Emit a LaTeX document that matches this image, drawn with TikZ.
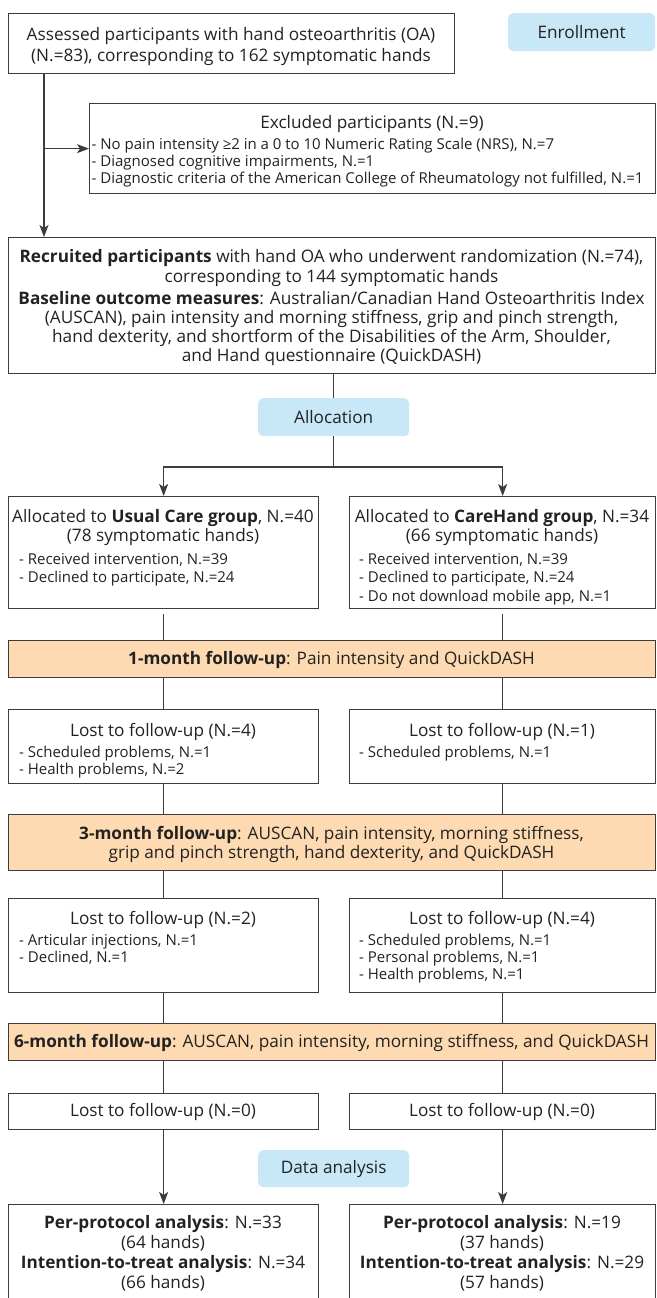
\documentclass[tikz,border=0pt]{standalone}
\usepackage{fontspec}
\setmainfont{Open Sans}
\usetikzlibrary{arrows.meta}
\definecolor{edgegray}{HTML}{3C3C3C}
\definecolor{labelblue}{HTML}{C8E8F7}
\definecolor{bandpeach}{HTML}{FDDAB2}
\definecolor{ink}{HTML}{222222}
\newcommand{\tsA}{\rule{0pt}{14pt}}
\newcommand{\tsB}{\rule{0pt}{12.5pt}}
\tikzset{
  box/.style={draw=edgegray, line width=1.3pt, fill=white, anchor=north west, inner sep=0pt},
  band/.style={box, fill=bandpeach},
  tag/.style={fill=labelblue, rounded corners=5pt, anchor=north west, inner sep=0pt, font=\fontsize{17.2}{20}\selectfont, text=ink},
  ttl/.style={anchor=north, inner sep=0pt, align=center, font=\fontsize{17.2}{19}\selectfont, text=ink},
  lst/.style={anchor=north west, inner sep=0pt, align=left, font=\fontsize{15}{18.5}\selectfont, text=ink},
  lstb/.style={lst, font=\fontsize{15}{17}\selectfont},
  conn/.style={draw=edgegray, line width=1.1pt},
  arr/.style={conn, -{Stealth[length=12pt,width=9pt,inset=3pt]}},
}
\begin{document}
\begin{tikzpicture}[x=1pt,y=-1pt]
\useasboundingbox (0,0) rectangle (656,1298);

% Enrollment
\node[box, minimum width=446pt, minimum height=60pt] (a) at (8,13) {};
\node[ttl, font=\fontsize{17.2}{21}\selectfont] (at) at (231,26) {\tsA Assessed participants with hand osteoarthritis (OA)\\(N.=83), corresponding to 162 symptomatic hands};
\node[tag, minimum width=147pt, minimum height=38pt] (enr) at (508,13) {Enrollment};

\node[box, minimum width=566pt, minimum height=90pt] (ex) at (89,103) {};
\node[ttl] (ext) at (372,114) {\tsA Excluded participants (N.=9)};
\node[lstb] (exl) at (91.5,136.5) {\tsB - No pain intensity ≥2 in a 0 to 10 Numeric Rating Scale (NRS), N.=7\\- Diagnosed cognitive impairments, N.=1\\- Diagnostic criteria of the American College of Rheumatology not fulfilled, N.=1};

\node[box, minimum width=647pt, minimum height=136pt] (rec) at (8,237) {};
\node[ttl, font=\fontsize{17.2}{20.5}\selectfont] (rect1) at (331.5,248) {\tsA\textbf{Recruited participants} with hand OA who underwent randomization (N.=74),\\corresponding to 144 symptomatic hands};
\node[ttl] (rect2) at (331.5,290) {\tsA\textbf{Baseline outcome measures}: Australian/Canadian Hand Osteoarthritis Index\\(AUSCAN), pain intensity and morning stiffness, grip and pinch strength,\\hand dexterity, and shortform of the Disabilities of the Arm, Shoulder,\\and Hand questionnaire (QuickDASH)};

% Allocation
\node[tag, minimum width=151pt, minimum height=38pt] (alloc) at (258,398) {Allocation};

\node[box, minimum width=310pt, minimum height=112pt] (uc) at (8,496) {};
\node[ttl] (uct) at (163,508.5) {\tsA Allocated to \textbf{Usual Care group}, N.=40\\(78 symptomatic hands)};
\node[lst] (ucl) at (19,551.5) {\tsB - Received intervention, N.=39\\- Declined to participate, N.=24};

\node[box, minimum width=306pt, minimum height=112pt] (ch) at (349,496) {};
\node[ttl] (cht) at (502,508.5) {\tsA Allocated to \textbf{CareHand group}, N.=34\\(66 symptomatic hands)};
\node[lst] (chl) at (359,551.5) {\tsB - Received intervention, N.=39\\- Declined to participate, N.=24\\- Do not download mobile app, N.=1};

% 1 month
\node[band, minimum width=647pt, minimum height=37pt] (m1) at (8,640) {};
\node[ttl] (m1t) at (331.5,650) {\tsA\textbf{1-month follow-up}: Pain intensity and QuickDASH};

\node[box, minimum width=310pt, minimum height=74pt] (l1a) at (8,709) {};
\node[ttl] (l1at) at (163,722.5) {\tsA Lost to follow-up (N.=4)};
\node[lstb] (l1al) at (19,744.5) {\tsB - Scheduled problems, N.=1\\- Health problems, N.=2};
\node[box, minimum width=306pt, minimum height=74pt] (l1b) at (349,709) {};
\node[ttl] (l1bt) at (502,722.5) {\tsA Lost to follow-up (N.=1)};
\node[lstb] (l1bl) at (359,744.5) {\tsB - Scheduled problems, N.=1};

% 3 month
\node[band, minimum width=647pt, minimum height=56pt] (m3) at (8,814) {};
\node[ttl] (m3t) at (331.5,825) {\tsA\textbf{3-month follow-up}: AUSCAN, pain intensity, morning stiffness,\\grip and pinch strength, hand dexterity, and QuickDASH};

\node[box, minimum width=310pt, minimum height=94pt] (l2a) at (8,898) {};
\node[ttl] (l2at) at (163,910) {\tsA Lost to follow-up (N.=2)};
\node[lstb] (l2al) at (19,932.5) {\tsB - Articular injections, N.=1\\- Declined, N.=1};
\node[box, minimum width=306pt, minimum height=94pt] (l2b) at (349,898) {};
\node[ttl] (l2bt) at (502,910) {\tsA Lost to follow-up (N.=4)};
\node[lstb] (l2bl) at (359,932.5) {\tsB - Scheduled problems, N.=1\\- Personal problems, N.=1\\- Health problems, N.=1};

% 6 month
\node[band, minimum width=647pt, minimum height=37pt] (m6) at (8,1023) {};
\node[ttl] (m6t) at (331.5,1033) {\tsA\textbf{6-month follow-up}: AUSCAN, pain intensity, morning stiffness, and QuickDASH};

\node[box, minimum width=310pt, minimum height=36pt] (l3a) at (8,1093) {};
\node[ttl] (l3at) at (163,1102) {\tsA Lost to follow-up (N.=0)};
\node[box, minimum width=306pt, minimum height=36pt] (l3b) at (349,1093) {};
\node[ttl] (l3bt) at (502,1102) {\tsA Lost to follow-up (N.=0)};

% Data analysis
\node[tag, minimum width=151pt, minimum height=37pt] (da) at (258,1150) {Data analysis};

\node[box, minimum width=310pt, minimum height=110pt] (fa) at (8,1204) {};
\node[ttl, font=\fontsize{17.2}{20}\selectfont] (fat) at (163,1214) {\tsA\textbf{Per-protocol analysis}: N.=33\\(64 hands)\\\textbf{Intention-to-treat analysis}: N.=34\\(66 hands)};
\node[box, minimum width=306pt, minimum height=110pt] (fb) at (349,1204) {};
\node[ttl, font=\fontsize{17.2}{20}\selectfont] (fbt) at (502,1214) {\tsA\textbf{Per-protocol analysis}: N.=19\\(37 hands)\\\textbf{Intention-to-treat analysis}: N.=29\\(57 hands)};

% connectors
\draw[arr] ([xshift=36pt]a.south west) -- ([xshift=36pt]a.south west |- rec.north);
\draw[arr] ([xshift=36pt]a.south west |- ex.west) -- (ex.west);
\draw[conn] (rec.south -| alloc.south) -- (alloc.north);
\draw[arr] (alloc.south) |- ([yshift=29pt]uc.north) -- (uc.north);
\draw[arr] (alloc.south) |- ([yshift=29pt]ch.north) -- (ch.north);
\draw[conn, shorten <=5pt] (uc.south) -- (uc.south |- m1.north);
\draw[conn, shorten <=5pt] (ch.south) -- (ch.south |- m1.north);
\draw[conn] (l1a.north |- m1.south) -- (l1a.north);
\draw[conn] (l1b.north |- m1.south) -- (l1b.north);
\draw[conn] (l1a.south) -- (l1a.south |- m3.north);
\draw[conn] (l1b.south) -- (l1b.south |- m3.north);
\draw[conn] (l2a.north |- m3.south) -- (l2a.north);
\draw[conn] (l2b.north |- m3.south) -- (l2b.north);
\draw[conn] (l2a.south) -- (l2a.south |- m6.north);
\draw[conn] (l2b.south) -- (l2b.south |- m6.north);
\draw[conn] (l3a.north |- m6.south) -- (l3a.north);
\draw[conn] (l3b.north |- m6.south) -- (l3b.north);
\draw[arr] (l3a.south) -- (fa.north);
\draw[arr] (l3b.south) -- (fb.north);
\end{tikzpicture}
\end{document}
